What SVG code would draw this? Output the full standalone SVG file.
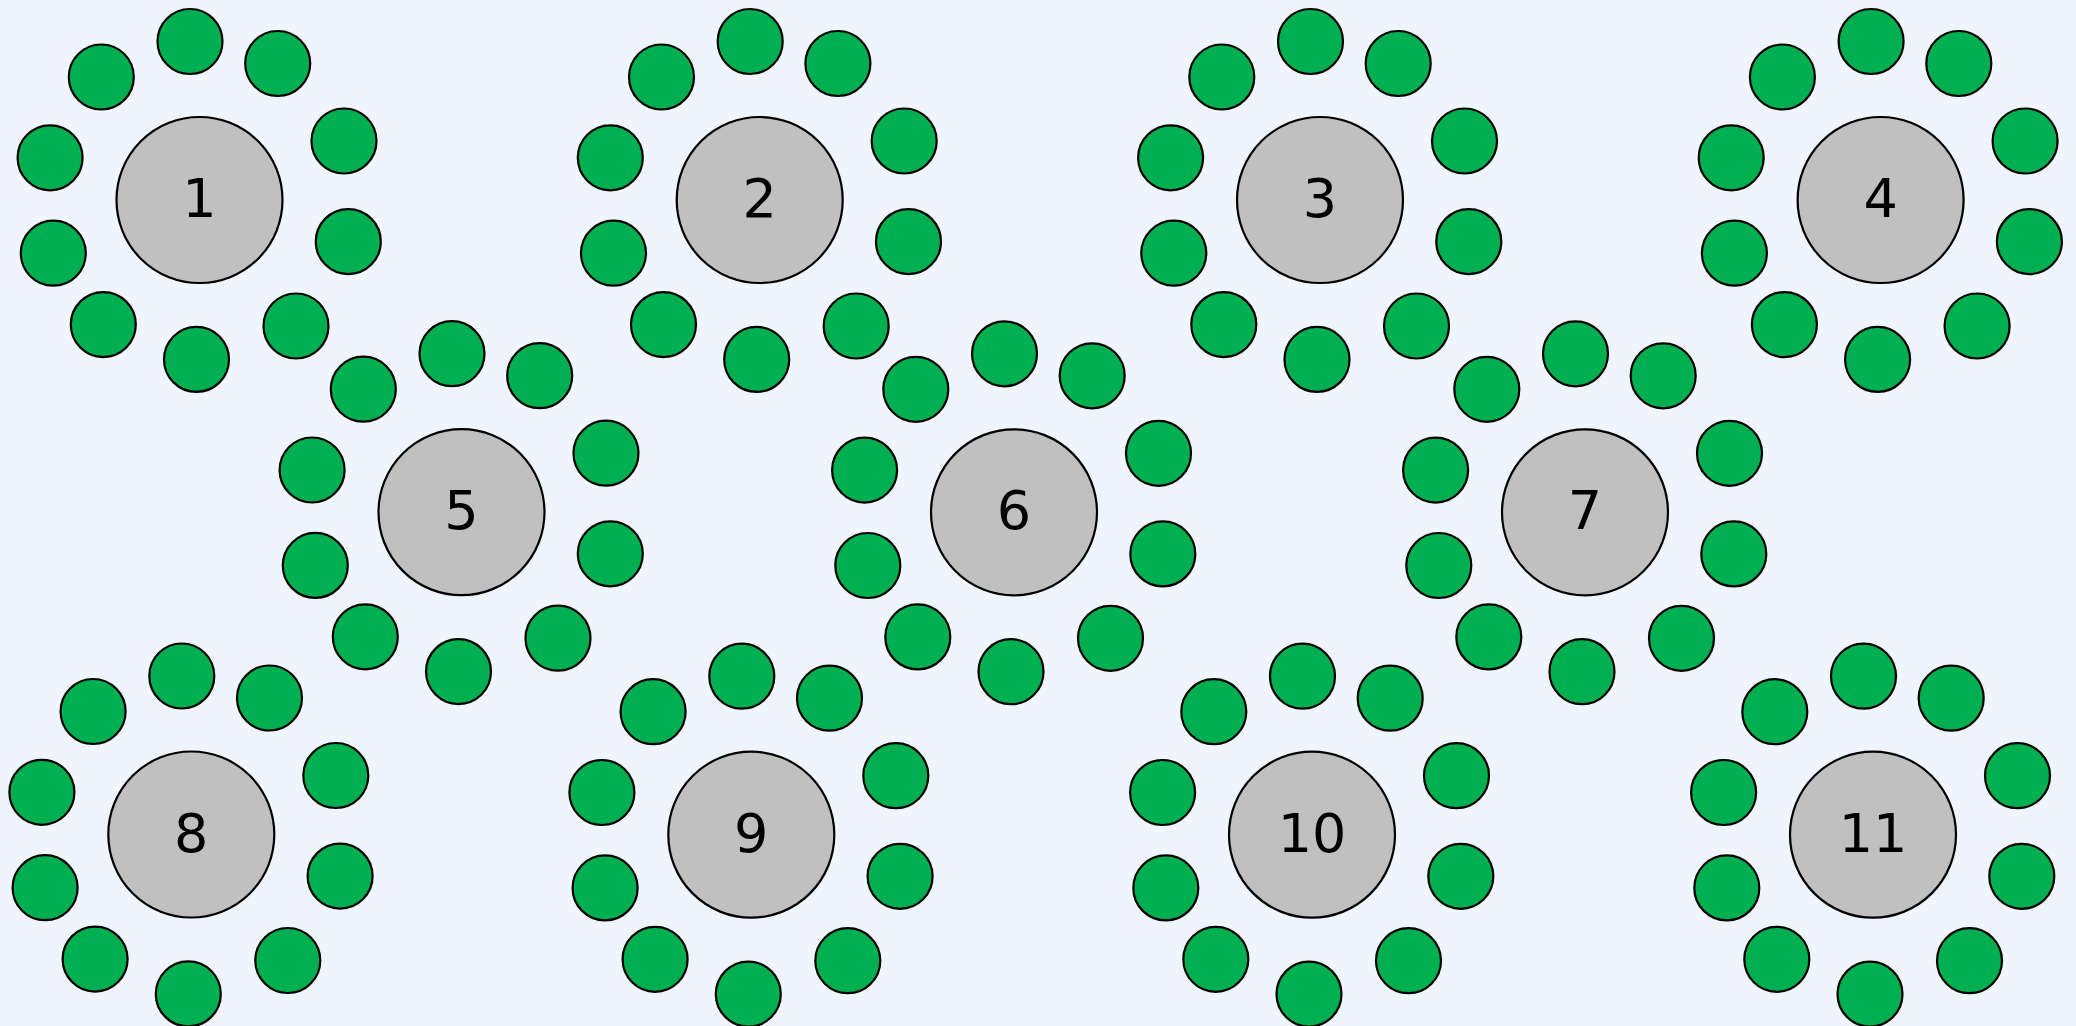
<svg xmlns="http://www.w3.org/2000/svg" xmlns:xlink="http://www.w3.org/1999/xlink" width="2076" height="1026" viewBox="0 0 2076 1026">
<style>
.hub{fill:#c0c0c0;stroke:#000;stroke-width:2.2}
.sat{fill:#00af50;stroke:#000;stroke-width:2.2}
.lbl{font-family:"DejaVu Sans","Noto Sans",sans-serif;font-size:54px;fill:#000;text-anchor:middle}
</style>
<defs>
<g id="ring">
<circle class="sat" cx="-9.5" cy="-158.5" r="32.5"/>
<circle class="sat" cx="78.2" cy="-136.5" r="32.5"/>
<circle class="sat" cx="144.5" cy="-59" r="32.5"/>
<circle class="sat" cx="148.8" cy="41.6" r="32.5"/>
<circle class="sat" cx="96.5" cy="126" r="32.5"/>
<circle class="sat" cx="-3" cy="159.4" r="32.5"/>
<circle class="sat" cx="-96.2" cy="124.6" r="32.5"/>
<circle class="sat" cx="-146.2" cy="53.2" r="32.5"/>
<circle class="sat" cx="-149.4" cy="-42.2" r="32.5"/>
<circle class="sat" cx="-98.2" cy="-123" r="32.5"/>
</g>
</defs>
<rect width="2076" height="1026" fill="#eff5fc"/>
<g id="connectors"/>
<g id="node-1"><use href="#ring" x="199.5" y="200"/><circle class="hub" cx="199.5" cy="200" r="83"/><text class="lbl" x="199.5" y="217">1</text></g>
<g id="node-2"><use href="#ring" x="759.7" y="200"/><circle class="hub" cx="759.7" cy="200" r="83"/><text class="lbl" x="759.7" y="217">2</text></g>
<g id="node-3"><use href="#ring" x="1320" y="200"/><circle class="hub" cx="1320" cy="200" r="83"/><text class="lbl" x="1320" y="217">3</text></g>
<g id="node-4"><use href="#ring" x="1880.6" y="200"/><circle class="hub" cx="1880.6" cy="200" r="83"/><text class="lbl" x="1880.6" y="217">4</text></g>
<g id="node-5"><use href="#ring" x="461.5" y="512.2"/><circle class="hub" cx="461.5" cy="512.2" r="83"/><text class="lbl" x="461.5" y="529.2">5</text></g>
<g id="node-6"><use href="#ring" x="1014" y="512.3"/><circle class="hub" cx="1014" cy="512.3" r="83"/><text class="lbl" x="1014" y="529.3">6</text></g>
<g id="node-7"><use href="#ring" x="1585" y="512.3"/><circle class="hub" cx="1585" cy="512.3" r="83"/><text class="lbl" x="1585" y="529.3">7</text></g>
<g id="node-8"><use href="#ring" x="191.3" y="834.5"/><circle class="hub" cx="191.3" cy="834.5" r="83"/><text class="lbl" x="191.3" y="851.5">8</text></g>
<g id="node-9"><use href="#ring" x="751.3" y="834.7"/><circle class="hub" cx="751.3" cy="834.7" r="83"/><text class="lbl" x="751.3" y="851.7">9</text></g>
<g id="node-10"><use href="#ring" x="1312" y="834.7"/><circle class="hub" cx="1312" cy="834.7" r="83"/><text class="lbl" x="1312" y="851.7">10</text></g>
<g id="node-11"><use href="#ring" x="1873" y="834.7"/><circle class="hub" cx="1873" cy="834.7" r="83"/><text class="lbl" x="1873" y="851.7">11</text></g>
</svg>
